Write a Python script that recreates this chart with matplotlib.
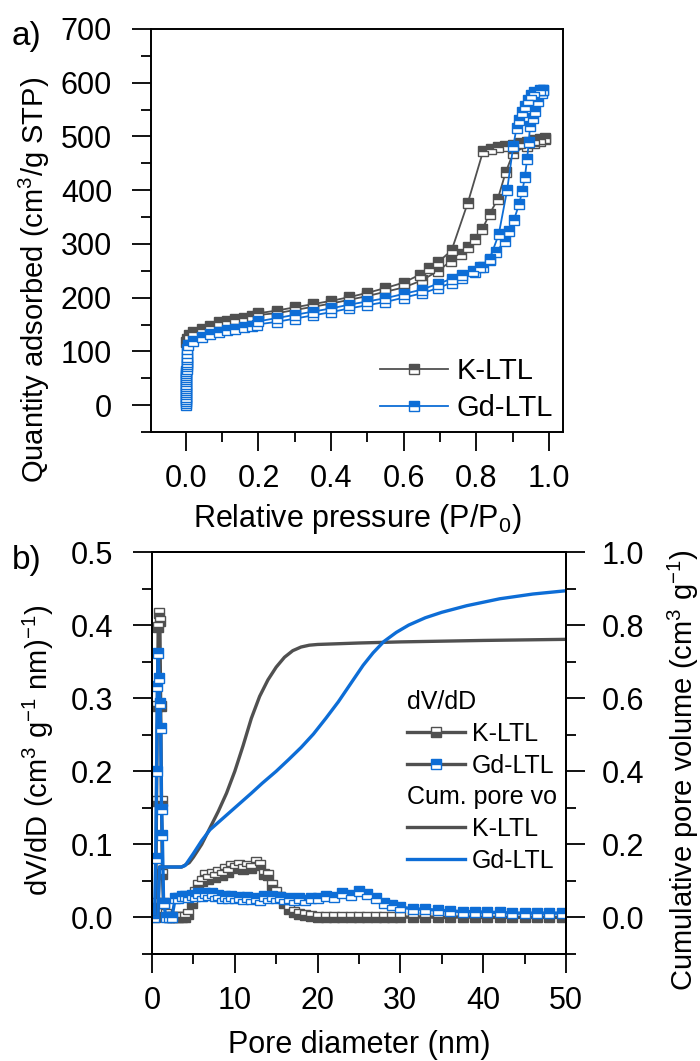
import matplotlib

matplotlib.use("Agg")
import matplotlib.pyplot as plt
from matplotlib.lines import Line2D
from matplotlib.ticker import MultipleLocator

plt.rcParams["font.family"] = ["Liberation Sans", "DejaVu Sans"]
plt.rcParams["mathtext.fontset"] = "custom"
plt.rcParams["mathtext.rm"] = "Liberation Sans"
plt.rcParams["mathtext.default"] = "regular"

GREY = "#505050"
BLUE = "#0d6dd6"

# ---- a) N2 isotherms: relative pressure vs quantity adsorbed ----
k_ads_p = [0.001, 0.003, 0.008, 0.021, 0.044, 0.067, 0.09, 0.113, 0.136, 0.159,
           0.182, 0.2, 0.25, 0.3, 0.35, 0.4, 0.45, 0.5, 0.55, 0.6, 0.65, 0.695,
           0.73, 0.759, 0.777, 0.796, 0.817, 0.837, 0.859, 0.881, 0.902, 0.94,
           0.96, 0.975, 0.989]
k_ads_q = [118, 124, 130, 136, 142, 148, 154, 157, 160, 163,
           166, 168, 171, 177, 183, 189, 196, 203, 211, 219, 232, 250,
           268, 281, 294, 309, 328, 356, 383, 433, 470, 482,
           487, 491, 495]
k_des_p = [0.989, 0.975, 0.96, 0.94, 0.92, 0.9, 0.88, 0.86, 0.84, 0.819, 0.777,
           0.732, 0.695, 0.67, 0.645, 0.6, 0.55, 0.5, 0.45, 0.4, 0.35, 0.3,
           0.25, 0.2]
k_des_q = [497, 496, 493, 490, 487, 484, 482, 480, 477, 473, 377,
           288, 266, 255, 243, 228, 218, 209, 201, 194, 188, 182,
           176, 171]

gd_ads_p = [0.0001, 0.0002, 0.0003, 0.0004, 0.0005, 0.0006, 0.0007, 0.0008,
            0.0009, 0.001, 0.0011, 0.0012, 0.0013, 0.0014, 0.0015, 0.0016,
            0.0017, 0.0018, 0.0019, 0.002, 0.0022, 0.0024, 0.0026, 0.0028,
            0.003, 0.005, 0.021, 0.044, 0.067, 0.09, 0.113, 0.136, 0.159,
            0.182, 0.196, 0.25, 0.3, 0.35, 0.4, 0.45, 0.5, 0.55, 0.6, 0.65,
            0.695, 0.732, 0.76, 0.796, 0.819, 0.837, 0.855, 0.878, 0.891,
            0.904, 0.918, 0.927, 0.934, 0.94, 0.945, 0.948, 0.955, 0.961,
            0.97, 0.98, 0.985]
gd_ads_q = [0, 4, 8, 12, 16, 20, 24, 28,
            32, 36, 40, 44, 48, 52, 56, 60,
            64, 68, 72, 76, 80, 85, 90, 97,
            104, 112, 120, 126, 132, 136, 139, 142, 145,
            148, 150, 155, 161, 167, 173, 180, 186, 192, 200, 208,
            218, 228, 237, 247, 258, 270, 285, 305, 325,
            345, 374, 399, 424, 458, 490, 519, 535, 547,
            566, 581, 587]
gd_des_p = [0.985, 0.975, 0.96, 0.952, 0.943, 0.934, 0.927, 0.918, 0.911,
            0.902, 0.885, 0.862, 0.837, 0.811, 0.79, 0.76, 0.732, 0.695,
            0.65, 0.6, 0.55, 0.5, 0.45, 0.4, 0.35, 0.3, 0.25, 0.2]
gd_des_q = [587, 586, 583, 577, 567, 557, 545, 530, 516,
            482, 400, 318, 272, 257, 249, 243, 235, 226,
            215, 207, 199, 193, 187, 180, 174, 168, 162, 156]

# ---- b) pore size distribution (dV/dD) and cumulative pore volume ----
k_psd_d = [0.35, 0.45, 0.55, 0.65, 0.75, 0.85, 0.95, 1.05, 1.15, 1.25, 1.4,
           1.7, 2.0, 2.4, 2.8, 3.2, 3.6, 4.0, 4.4, 4.8, 5.2, 5.6, 6.0, 6.4,
           6.8, 7.2, 7.6, 8.0, 8.4, 8.8, 9.2, 9.6, 10.0, 10.5, 11.0, 11.5,
           12.0, 12.5, 13.0, 13.5, 14.0, 14.5, 15.0, 15.5, 16.0, 16.6, 17.2,
           17.8, 18.5, 19.2, 20.0, 21.0, 22.0, 23.0, 24.0, 25.0, 26.0, 27.0,
           28.0, 29.0, 30.0, 31.5, 33.0, 34.5, 36.0, 37.5, 39.0, 40.5, 42.0,
           43.5, 45.0, 46.5, 48.0, 49.5]
k_psd_v = [0.0, 0.02, 0.16, 0.289, 0.397, 0.417, 0.406, 0.289, 0.16, 0.06,
           0.02, 0.005, 0.0, 0.0, 0.0, 0.0, 0.0, 0.0, 0.005, 0.02, 0.035,
           0.045, 0.05, 0.058, 0.052, 0.06, 0.055, 0.062, 0.058, 0.066, 0.062,
           0.07, 0.068, 0.072, 0.066, 0.07, 0.068, 0.076, 0.072, 0.06, 0.058,
           0.045, 0.035, 0.028, 0.02, 0.012, 0.008, 0.005, 0.003, 0.002, 0.001,
           0.0, 0.001, 0.0, 0.001, 0.0, 0.001, 0.0, 0.001, 0.0, 0.001, 0.0,
           0.001, 0.0, 0.0, 0.001, 0.0, 0.0, 0.0, 0.0, 0.0, 0.0, 0.0, 0.0]
gd_psd_d = [0.3, 0.45, 0.55, 0.65, 0.75, 0.85, 0.95, 1.05, 1.15, 1.25, 1.4,
            1.7, 2.0, 2.4, 2.8, 3.2, 3.6, 4.0, 4.4, 4.8, 5.2, 5.6, 6.0, 6.4,
            6.8, 7.2, 7.6, 8.0, 8.4, 8.8, 9.2, 9.6, 10.0, 10.5, 11.0, 11.5,
            12.0, 12.5, 13.0, 13.5, 14.0, 14.5, 15.0, 15.5, 16.0, 16.6, 17.2,
            17.8, 18.5, 19.2, 20.0, 21.0, 22.0, 23.0, 24.0, 25.0, 26.0, 27.0,
            28.0, 29.0, 30.0, 31.5, 33.0, 34.5, 36.0, 37.5, 39.0, 40.5, 42.0,
            43.5, 45.0, 46.5, 48.0, 49.5]
gd_psd_v = [0.0, 0.081, 0.2, 0.316, 0.362, 0.328, 0.293, 0.259, 0.149, 0.113,
            0.02, 0.0, 0.0, 0.0, 0.026, 0.027, 0.029, 0.03, 0.028, 0.031,
            0.029, 0.033, 0.03, 0.034, 0.031, 0.033, 0.029, 0.031, 0.027, 0.03,
            0.026, 0.029, 0.026, 0.028, 0.025, 0.028, 0.025, 0.027, 0.024,
            0.029, 0.026, 0.029, 0.026, 0.028, 0.025, 0.027, 0.024, 0.026,
            0.024, 0.027, 0.026, 0.03, 0.028, 0.033, 0.031, 0.036, 0.032,
            0.026, 0.02, 0.017, 0.014, 0.012, 0.011, 0.01, 0.009, 0.008,
            0.008, 0.007, 0.007, 0.006, 0.006, 0.006, 0.006, 0.006]

k_cum_d = [0.3, 0.7, 0.8, 0.9, 2.0, 3.6, 4.5, 5.0, 6.0, 7.0, 8.0, 9.0, 10.0,
           11.0, 12.0, 13.0, 14.0, 15.0, 16.0, 17.0, 18.0, 19.0, 20.0, 25.0,
           30.0, 40.0, 50.0]
k_cum_v = [0.0, 0.0, 0.07, 0.138, 0.138, 0.138, 0.15, 0.165, 0.2, 0.245, 0.29,
           0.34, 0.4, 0.47, 0.545, 0.605, 0.65, 0.685, 0.712, 0.73, 0.74,
           0.745, 0.747, 0.751, 0.754, 0.758, 0.761]
gd_cum_d = [0.3, 0.7, 0.8, 0.9, 2.0, 3.5, 4.0, 5.0, 6.0, 7.0, 8.0, 9.0, 10.0,
            11.0, 12.0, 13.3, 15.0, 16.5, 18.0, 19.5, 21.0, 22.5, 24.0, 25.5,
            26.7, 28.0, 29.5, 31.0, 33.0, 35.0, 38.0, 42.0, 46.0, 50.0]
gd_cum_v = [0.0, 0.0, 0.07, 0.138, 0.138, 0.138, 0.142, 0.175, 0.21, 0.24,
            0.26, 0.28, 0.3, 0.32, 0.34, 0.367, 0.4, 0.432, 0.465, 0.502,
            0.545, 0.59, 0.64, 0.69, 0.724, 0.755, 0.78, 0.8, 0.82, 0.835,
            0.853, 0.872, 0.885, 0.894]

FS_TICK = 22
FS_LAB = 22


def style_axis(ax, pad=14):
    for s in ax.spines.values():
        s.set_linewidth(1.4)
    ax.tick_params(which="major", direction="out", length=14, width=1.3,
                   labelsize=FS_TICK, pad=pad)
    ax.tick_params(which="minor", direction="out", length=7, width=1.3)
    ax.tick_params(axis="x", which="major", pad=9)


fig = plt.figure(figsize=(7, 10.61), dpi=100)

# panel a
ax1 = fig.add_axes([151 / 700, 1 - 432 / 1061, 412 / 700, 403 / 1061])
mk = dict(marker="s", markersize=7, mew=1.0, lw=1.3)
ax1.plot(k_ads_p, k_ads_q, color=GREY, mfc=GREY, mec=GREY, fillstyle="top",
         markerfacecoloralt="white", **mk)
ax1.plot(k_des_p, k_des_q, color=GREY, mfc=GREY, mec=GREY, fillstyle="top",
         markerfacecoloralt="white", **mk)
ax1.plot(gd_ads_p, gd_ads_q, color=BLUE, mfc=BLUE, mec=BLUE, fillstyle="top",
         markerfacecoloralt="white", **mk)
ax1.plot(gd_des_p, gd_des_q, color=BLUE, mfc=BLUE, mec=BLUE, fillstyle="top",
         markerfacecoloralt="white", **mk)
ax1.set_xlim(-0.096, 1.039)
ax1.set_ylim(-50, 700)
ax1.xaxis.set_major_locator(MultipleLocator(0.2))
ax1.xaxis.set_minor_locator(MultipleLocator(0.1))
ax1.yaxis.set_major_locator(MultipleLocator(100))
ax1.yaxis.set_minor_locator(MultipleLocator(50))
style_axis(ax1)
ax1.set_xlabel("Relative pressure (P/P$_0$)", fontsize=FS_LAB, labelpad=6)
h_a = [Line2D([], [], color=GREY, mfc=GREY, mec=GREY, fillstyle="top",
              markerfacecoloralt="white", **mk),
       Line2D([], [], color=BLUE, mfc=BLUE, mec=BLUE, fillstyle="top",
              markerfacecoloralt="white", **mk)]
ax1.legend(h_a, ["K-LTL", "Gd-LTL"], loc="lower right", frameon=False,
           fontsize=21, handlelength=2.35, handletextpad=0.28,
           labelspacing=0.3, borderaxespad=0.15, borderpad=0.2)
fig.text(34 / 700, 1 - 280 / 1061, "Quantity adsorbed (cm$^3$/g STP)",
         rotation=90, ha="center", va="center", fontsize=21)
fig.text(12 / 700, 1 - 36 / 1061, "a)", ha="left", va="center", fontsize=24)

# panel b
ax2 = fig.add_axes([152 / 700, 1 - 954 / 1061, 414 / 700, 402 / 1061])
ax3 = ax2.twinx()
mkb = dict(marker="s", markersize=7.5, mew=1.0, lw=2.4)
ax2.plot(k_psd_d, k_psd_v, color=GREY, mfc=GREY, mec=GREY, fillstyle="bottom",
         markerfacecoloralt="white", **mkb)
ax2.plot(gd_psd_d, gd_psd_v, color=BLUE, mfc=BLUE, mec=BLUE, fillstyle="top",
         markerfacecoloralt="white", **mkb)
ax3.plot(k_cum_d, k_cum_v, color=GREY, lw=2.4)
ax3.plot(gd_cum_d, gd_cum_v, color=BLUE, lw=2.4)
ax2.set_xlim(0, 50)
ax2.set_ylim(-0.05, 0.5)
ax3.set_ylim(-0.1, 1.0)
ax2.xaxis.set_major_locator(MultipleLocator(10))
ax2.xaxis.set_minor_locator(MultipleLocator(5))
ax2.yaxis.set_major_locator(MultipleLocator(0.1))
ax2.yaxis.set_minor_locator(MultipleLocator(0.05))
ax3.yaxis.set_major_locator(MultipleLocator(0.2))
ax3.yaxis.set_minor_locator(MultipleLocator(0.1))
ax2.yaxis.set_major_formatter("{x:.1f}")
ax3.yaxis.set_major_formatter("{x:.1f}")
style_axis(ax2)
style_axis(ax3, pad=12)
ax2.set_xlabel("Pore diameter (nm)", fontsize=FS_LAB, labelpad=10)
fig.text(38 / 700, 1 - 750 / 1061, "dV/dD (cm$^3$ g$^{-1}$ nm)$^{-1}$)",
         rotation=90, ha="center", va="center", fontsize=21)
fig.text(683 / 700, 1 - 770 / 1061, "Cumulative pore volume (cm$^3$ g$^{-1}$)",
         rotation=90, ha="center", va="center", fontsize=21)
fig.text(12 / 700, 1 - 560 / 1061, "b)", ha="left", va="center", fontsize=24)

h_psd = [Line2D([], [], color=GREY, mfc=GREY, mec=GREY, fillstyle="bottom",
                markerfacecoloralt="white", **mkb),
         Line2D([], [], color=GREY, mfc=BLUE, mec=BLUE, fillstyle="top",
                markerfacecoloralt="white", **mkb)]
h_cum = [Line2D([], [], color=GREY, lw=2.4), Line2D([], [], color=BLUE, lw=2.4)]
leg_kw = dict(title_fontsize=18, fontsize=18, frameon=False, alignment="left",
              loc="upper left", bbox_transform=fig.transFigure,
              handlelength=2.3, handletextpad=0.3, labelspacing=0.32,
              borderpad=0, borderaxespad=0)
leg1 = ax3.legend(h_psd, ["K-LTL", "Gd-LTL"], title="dV/dD",
                  bbox_to_anchor=(407 / 700, 1 - 690 / 1061), **leg_kw)
ax3.add_artist(leg1)
ax3.legend(h_cum, ["K-LTL", "Gd-LTL"], title="Cum. pore vo",
           bbox_to_anchor=(407 / 700, 1 - 785 / 1061), **leg_kw)

fig.savefig("out.png", dpi=100)
